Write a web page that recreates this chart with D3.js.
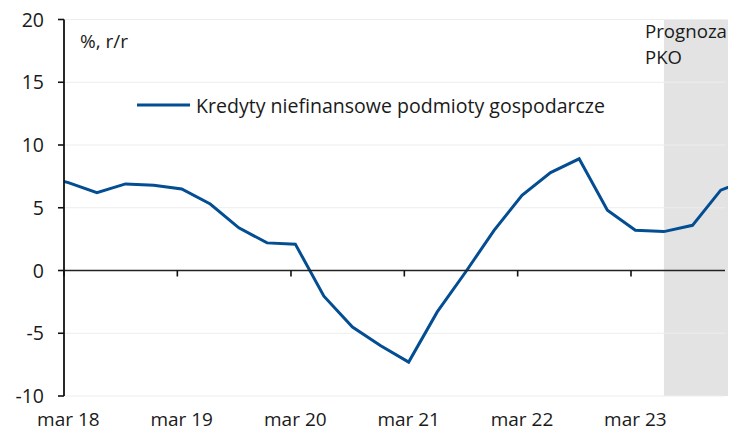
<!DOCTYPE html>
<html>
<head>
<meta charset="utf-8">
<script src="https://cdn.jsdelivr.net/npm/d3@7"></script>
<style>
  html, body { margin: 0; padding: 0; background: #fff; }
  svg { display: block; }
  text { font-family: "Open Sans", "Noto Sans", sans-serif; fill: #1a1a1a; }
</style>
</head>
<body>
<svg id="chart" width="729" height="432"></svg>
<script>
// Quarterly observations (first and last partly outside the plot, clipped)
const quarters = ["2017-12","2018-03","2018-06","2018-09","2018-12","2019-03","2019-06","2019-09","2019-12",
  "2020-03","2020-06","2020-09","2020-12","2021-03","2021-06","2021-09","2021-12",
  "2022-03","2022-06","2022-09","2022-12","2023-03","2023-06","2023-09","2023-12","2024-03"];
const kredyty = [7.6, 7.0, 6.2, 6.9, 6.8, 6.5, 5.3, 3.4, 2.2,
  2.1, -2.05, -4.5, -6.0, -7.3, -3.3, -0.1, 3.2,
  6.0, 7.8, 8.9, 4.8, 3.2, 3.1, 3.6, 6.4, 7.3];
const xTickYears = ["2018","2019","2020","2021","2022","2023"];
const xTickLabels = ["mar 18","mar 19","mar 20","mar 21","mar 22","mar 23"];
const yTicks = [-10, -5, 0, 5, 10, 15, 20];
const forecastStart = "2023-06";
const seriesName = "Kredyty niefinansowe podmioty gospodarcze";
const unitLabel = "%, r/r";
const forecastLabel = ["Prognoza", "PKO"];

const svg = d3.select("#chart");
const plot = { left: 64, right: 727, top: 19.5, bottom: 396 };
const parseQ = s => { const [y, m] = s.split("-").map(Number); return new Date(y, m - 1, 15); };
const parseTick = s => new Date(+s, 2, 1);

const x = d3.scaleTime()
  .domain([parseTick("2018"), parseTick("2023")])
  .range([64, 631]);
const y = d3.scaleLinear().domain([-10, 20]).range([plot.bottom, plot.top]);

// forecast shading
svg.append("rect")
  .attr("x", x(parseQ(forecastStart)))
  .attr("y", y(20))
  .attr("width", plot.right + 1 - x(parseQ(forecastStart)))
  .attr("height", y(-10) - y(20))
  .attr("fill", "#e3e3e3");

// gridlines
svg.append("g").selectAll("line").data(yTicks.filter(v => v !== 0)).join("line")
  .attr("x1", plot.left).attr("x2", 725)
  .attr("y1", d => y(d)).attr("y2", d => y(d))
  .attr("stroke", "#ededed").attr("stroke-width", 1);

// clip
svg.append("clipPath").attr("id", "clip").append("rect")
  .attr("x", plot.left).attr("y", 0).attr("width", plot.right - plot.left + 1).attr("height", 432);

// line
const data = quarters.map((q, i) => ({ d: parseQ(q), v: kredyty[i] }));
svg.append("path")
  .datum(data)
  .attr("clip-path", "url(#clip)")
  .attr("fill", "none")
  .attr("stroke", "#034d93")
  .attr("stroke-width", 3)
  .attr("stroke-linejoin", "miter")
  .attr("d", d3.line().x(d => x(d.d)).y(d => y(d.v)));

// zero line (x axis)
svg.append("line")
  .attr("x1", plot.left).attr("x2", 725)
  .attr("y1", y(0)).attr("y2", y(0))
  .attr("stroke", "#222").attr("stroke-width", 1.6);

// x ticks
svg.append("g").selectAll("line").data(xTickYears).join("line")
  .attr("x1", d => x(parseTick(d))).attr("x2", d => x(parseTick(d)))
  .attr("y1", y(0)).attr("y2", y(0) + 6)
  .attr("stroke", "#111").attr("stroke-width", 1.6);

// x labels (centred on March observations)
svg.append("g").selectAll("text").data(xTickYears).join("text")
  .attr("x", (d, i) => x(parseQ(d + "-03")))
  .attr("y", 426)
  .attr("text-anchor", "middle")
  .attr("font-size", 19)
  .text((d, i) => xTickLabels[i]);

// y axis
svg.append("line")
  .attr("x1", plot.left).attr("x2", plot.left)
  .attr("y1", y(20)).attr("y2", y(-10))
  .attr("stroke", "#111").attr("stroke-width", 1.8);
svg.append("g").selectAll("line").data(yTicks).join("line")
  .attr("x1", 58).attr("x2", plot.left)
  .attr("y1", d => y(d)).attr("y2", d => y(d))
  .attr("stroke", "#111").attr("stroke-width", 1.6);
svg.append("g").selectAll("text").data(yTicks).join("text")
  .attr("x", 44)
  .attr("y", d => y(d) + 7)
  .attr("text-anchor", "end")
  .attr("font-size", 19.5)
  .text(d => d);

// unit label
svg.append("text").attr("x", 80).attr("y", 48).attr("font-size", 19).text(unitLabel);

// legend
svg.append("line")
  .attr("x1", 137).attr("x2", 190).attr("y1", 105).attr("y2", 105)
  .attr("stroke", "#034d93").attr("stroke-width", 3);
svg.append("text")
  .attr("x", 196).attr("y", 113)
  .attr("font-size", 20.5)
  .attr("textLength", 409).attr("lengthAdjust", "spacingAndGlyphs")
  .text(seriesName);

// forecast label
svg.append("text").attr("x", 645).attr("y", 38).attr("font-size", 18.5)
  .attr("textLength", 82).attr("lengthAdjust", "spacingAndGlyphs").text(forecastLabel[0]);
svg.append("text").attr("x", 645).attr("y", 64).attr("font-size", 18.5).text(forecastLabel[1]);
</script>
</body>
</html>
